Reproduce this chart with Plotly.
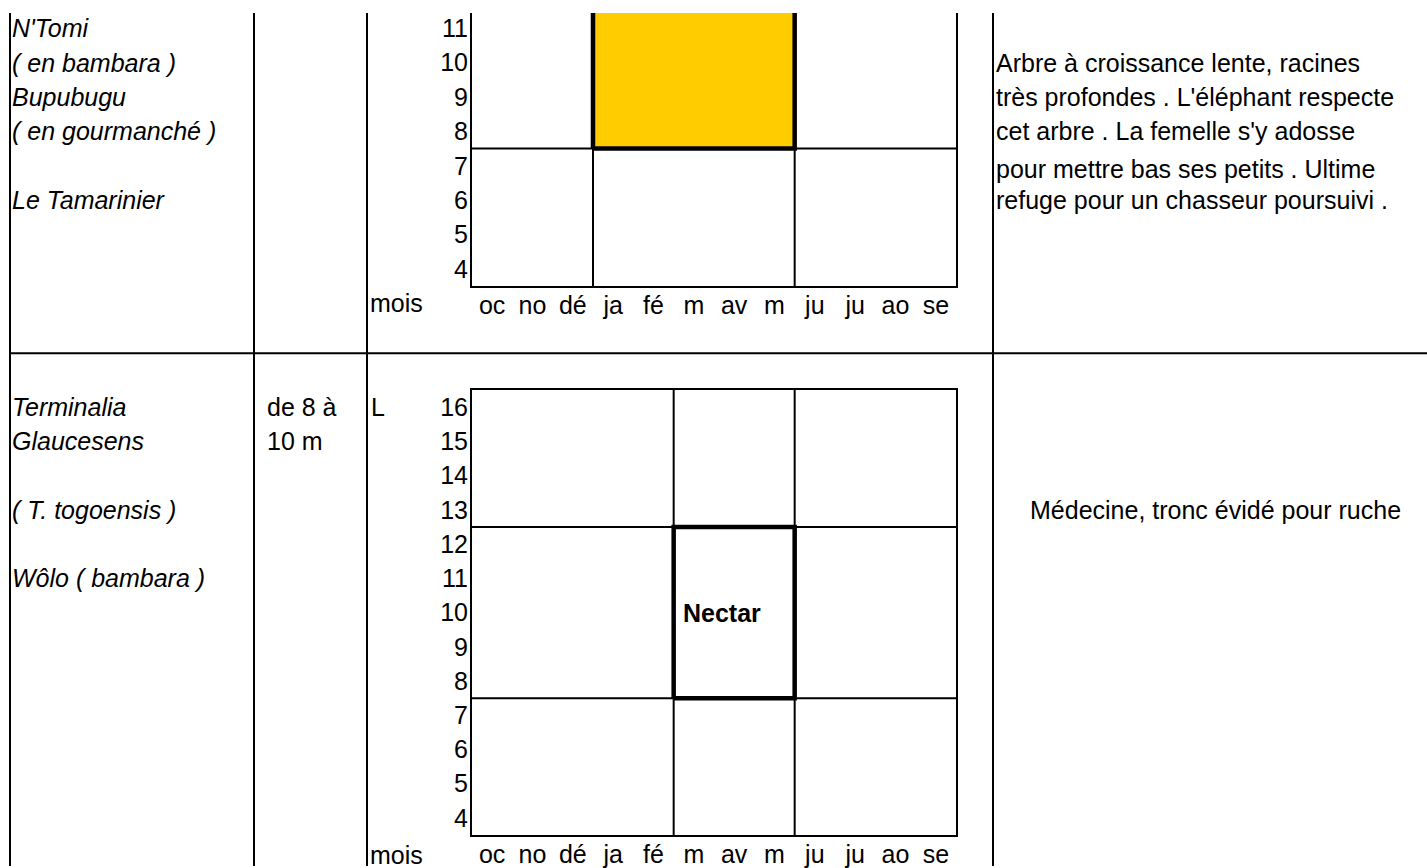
import plotly.graph_objects as go

W, H = 1427, 868
FONT = "Liberation Sans, Arial, sans-serif"
FS = 25

# ---- data ----
months = ["oc", "no", "dé", "ja", "fé", "m", "av", "m", "ju", "ju", "ao", "se"]
month_pos = [i + 0.5 for i in range(12)]

# chart 1 (Tamarinier)
c1_y_ticks = [4, 5, 6, 7, 8, 9, 10, 11]
c1_hlines = [7.5]
c1_vlines = [3, 8]
c1_band_x = [3, 8]          # janvier -> mai
c1_band_y = [7.5, 12.5]     # band (top cut off)

# chart 2 (Terminalia)
c2_y_ticks = list(range(4, 17))
c2_hlines = [7.5, 12.5]
c2_vlines = [5, 8]
c2_band_x = [5, 8]          # mars -> mai
c2_band_y = [7.5, 12.5]
c2_band_label = "Nectar"

names_1 = ["N'Tomi", "( en bambara )", "Bupubugu", "( en gourmanché )", "Le Tamarinier"]
names_1_rows = [11, 10, 9, 8, 6]
notes_1 = ["Arbre à croissance lente, racines",
           "très profondes . L'éléphant respecte",
           "cet arbre . La femelle s'y adosse",
           "pour mettre bas ses petits . Ultime",
           "refuge pour un chasseur poursuivi ."]
notes_1_rows = [10, 9, 8, 6.92, 6]

names_2 = ["Terminalia", "Glaucesens", "( T. togoensis )", "Wôlo ( bambara )"]
names_2_rows = [16, 15, 13, 11]
height_2 = ["de 8 à", "10 m"]
height_2_rows = [16, 15]
notes_2 = ["Médecine, tronc évidé pour ruche"]
notes_2_rows = [13]


def px(x):
    return x / W


def py(y):
    return 1 - y / H


fig = go.Figure()

LW = 2
THICK = 4.5


def grid(xa, ya, hl, vl, y0, y1):
    for h in hl:
        fig.add_trace(go.Scatter(x=[0, 12], y=[h, h], mode="lines",
                                 line=dict(color="black", width=LW),
                                 xaxis=xa, yaxis=ya, hoverinfo="skip", showlegend=False))
    for v in vl:
        fig.add_trace(go.Scatter(x=[v, v], y=[y0, y1], mode="lines",
                                 line=dict(color="black", width=LW),
                                 xaxis=xa, yaxis=ya, hoverinfo="skip", showlegend=False))


def band(xa, ya, bx, by, fill):
    fig.add_trace(go.Scatter(
        x=[bx[0], bx[0], bx[1], bx[1], bx[0]],
        y=[by[0], by[1], by[1], by[0], by[0]],
        mode="lines", fill="toself" if fill else "none",
        fillcolor=fill if fill else None,
        line=dict(color="black", width=THICK),
        xaxis=xa, yaxis=ya, hoverinfo="skip", showlegend=False))


# chart 1
Y1_TOP = 11.44
grid("x", "y", c1_hlines, c1_vlines, 3.5, 13)
band("x", "y", c1_band_x, c1_band_y, "#FFCC00")

# chart 2
grid("x2", "y2", c2_hlines, c2_vlines, 3.5, 16.5)
band("x2", "y2", c2_band_x, c2_band_y, None)

axis_font = dict(family=FONT, size=FS, color="black")

xdom = [px(472), px(956)]
common_x = dict(range=[0, 12], domain=xdom, tickmode="array", tickvals=month_pos,
                ticktext=months, showgrid=False, zeroline=False, showline=True,
                linecolor="black", linewidth=LW, ticks="", tickfont=axis_font,
                ticklabelstandoff=-4, fixedrange=True)
common_y = dict(showgrid=False, zeroline=False, showline=True, mirror=True,
                linecolor="black", linewidth=LW, ticks="", tickfont=axis_font,
                ticklabelstandoff=-3, tickmode="array", fixedrange=True)

fig.update_layout(
    width=W, height=H,
    margin=dict(l=0, r=0, t=0, b=0),
    paper_bgcolor="white", plot_bgcolor="white",
    font=dict(family=FONT, size=FS, color="black"),
    showlegend=False,
    xaxis=dict(**common_x, anchor="y", mirror=False),
    yaxis=dict(range=[3.5, Y1_TOP], domain=[py(287), py(13)], anchor="x",
               tickvals=c1_y_ticks, **common_y),
    xaxis2=dict(**common_x, anchor="y2", mirror=True),
    yaxis2=dict(range=[3.5, 16.5], domain=[py(837), py(391)], anchor="x2",
                tickvals=c2_y_ticks, **common_y),
)

# table lines
shapes = []
for xv in [10, 254, 367, 993]:
    shapes.append(dict(type="line", xref="paper", yref="paper",
                       x0=px(xv), x1=px(xv), y0=py(13), y1=0,
                       line=dict(color="black", width=LW)))
shapes.append(dict(type="line", xref="paper", yref="paper",
                   x0=px(10), x1=1, y0=py(354), y1=py(354),
                   line=dict(color="black", width=LW)))
fig.update_layout(shapes=shapes)

ann = []


def txt(text, x, y, yref, italic=False, bold=False, xanchor="left", xref="paper"):
    f = dict(family=FONT, size=FS, color="black")
    if italic:
        f["style"] = "italic"
    if bold:
        f["weight"] = "bold"
    ann.append(dict(text=text, x=x, y=y, xref=xref, yref=yref, showarrow=False,
                    xanchor=xanchor, yanchor="middle", font=f, borderpad=0))


for t, r in zip(names_1, names_1_rows):
    txt(t, px(11), r, "y", italic=True)
for t, r in zip(notes_1, notes_1_rows):
    txt(t, px(995), r, "y")
for t, r in zip(names_2, names_2_rows):
    txt(t, px(11), r, "y2", italic=True)
for t, r in zip(height_2, height_2_rows):
    txt(t, px(266), r, "y2")
for t, r in zip(notes_2, notes_2_rows):
    txt(t, px(1029), r, "y2")

txt("L", px(370), c2_y_ticks[-1], "y2")
txt("mois", px(369), py(304), "paper")
txt("mois", px(369), py(857), "paper")
txt(c2_band_label, (c2_band_x[0] + c2_band_x[1]) / 2 - 0.3, 10, "y2", bold=True,
    xanchor="center", xref="x2")

fig.update_layout(annotations=ann)

fig.write_html("out.html", config={"displayModeBar": False},
               post_script="document.body.style.margin='0';document.body.style.overflow='hidden';")
